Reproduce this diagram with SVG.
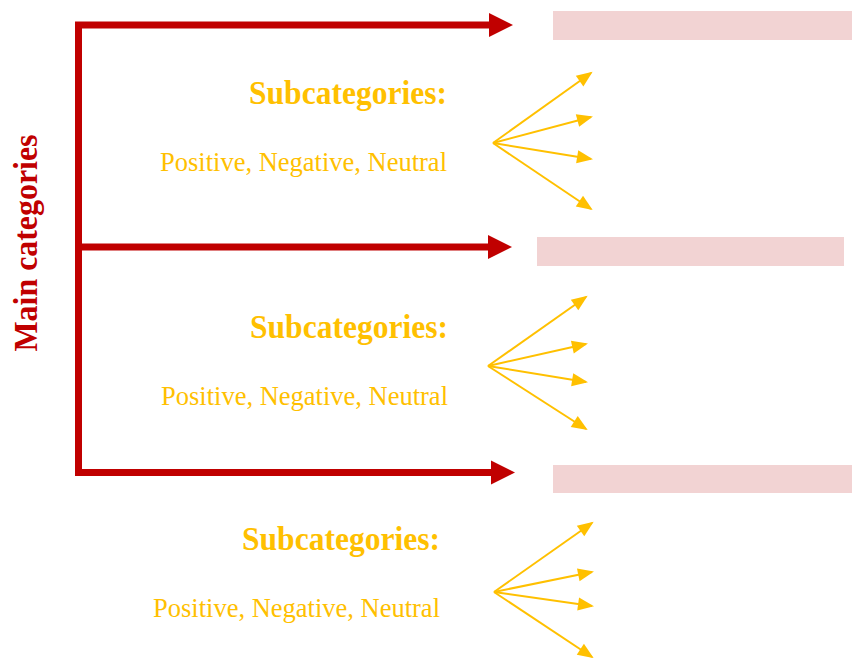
<svg xmlns="http://www.w3.org/2000/svg" width="852" height="658" viewBox="0 0 852 658">
<style>
.main{font-family:"Liberation Serif","Times New Roman",serif;font-weight:bold;font-size:34px;fill:#c00000}
.sub{font-family:"Liberation Serif","Times New Roman",serif;font-weight:bold;font-size:34px;fill:#ffc000;text-anchor:end}
.opts{font-family:"Liberation Serif","Times New Roman",serif;font-size:26.5px;fill:#ffc000;text-anchor:end}
.red{stroke:#c00000;stroke-width:7;fill:none}
.yel{stroke:#ffc000;stroke-width:2;fill:none;marker-end:url(#yh)}
.box{fill:#f2d3d3}
</style>
<defs>
<marker id="rh" markerUnits="userSpaceOnUse" markerWidth="24" markerHeight="24" refX="3" refY="12" orient="auto" overflow="visible">
<path d="M0,0 L24,12 L0,24 z" fill="#c00000"/>
</marker>
<marker id="yh" markerUnits="userSpaceOnUse" markerWidth="16" markerHeight="13" refX="14" refY="6.5" orient="auto" overflow="visible">
<path d="M0,0 L16,6.5 L0,13 z" fill="#ffc000"/>
</marker>
</defs>
<g id="main-label">
<text class="main" transform="translate(37,243) rotate(-90)" text-anchor="middle" textLength="217" lengthAdjust="spacingAndGlyphs">Main categories</text>
</g>
<g id="connectors">
<line class="red" x1="78.5" y1="22" x2="78.5" y2="476"/>
<line class="red" x1="75" y1="25" x2="492" y2="25" marker-end="url(#rh)"/>
<line class="red" x1="78" y1="247" x2="491" y2="247" marker-end="url(#rh)"/>
<line class="red" x1="75" y1="472.5" x2="494" y2="472.5" marker-end="url(#rh)"/>
<line class="yel" x1="493" y1="143" x2="591" y2="73"/>
<line class="yel" x1="493" y1="143" x2="591" y2="117"/>
<line class="yel" x1="493" y1="143" x2="591" y2="159"/>
<line class="yel" x1="493" y1="143" x2="591" y2="209"/>
<line class="yel" x1="488" y1="366" x2="586" y2="297"/>
<line class="yel" x1="488" y1="366" x2="586" y2="344"/>
<line class="yel" x1="488" y1="366" x2="586" y2="382"/>
<line class="yel" x1="488" y1="366" x2="586" y2="429"/>
<line class="yel" x1="494" y1="592" x2="592" y2="523"/>
<line class="yel" x1="494" y1="592" x2="592" y2="572"/>
<line class="yel" x1="494" y1="592" x2="592" y2="606"/>
<line class="yel" x1="494" y1="592" x2="592" y2="657"/>
</g>
<g id="box1"><rect class="box" x="553" y="11" width="299" height="29"/></g>
<g id="box2"><rect class="box" x="537" y="237" width="307" height="29"/></g>
<g id="box3"><rect class="box" x="553" y="465" width="299" height="28"/></g>
<g id="sub1">
<text class="sub" x="447" y="103.5" textLength="198" lengthAdjust="spacingAndGlyphs">Subcategories:</text>
<text class="opts" x="447" y="170.5" textLength="287" lengthAdjust="spacingAndGlyphs">Positive, Negative, Neutral</text>
</g>
<g id="sub2">
<text class="sub" x="448" y="337.5" textLength="198" lengthAdjust="spacingAndGlyphs">Subcategories:</text>
<text class="opts" x="448" y="404.5" textLength="287" lengthAdjust="spacingAndGlyphs">Positive, Negative, Neutral</text>
</g>
<g id="sub3">
<text class="sub" x="440" y="549.5" textLength="198" lengthAdjust="spacingAndGlyphs">Subcategories:</text>
<text class="opts" x="440" y="616.5" textLength="287" lengthAdjust="spacingAndGlyphs">Positive, Negative, Neutral</text>
</g>
</svg>
